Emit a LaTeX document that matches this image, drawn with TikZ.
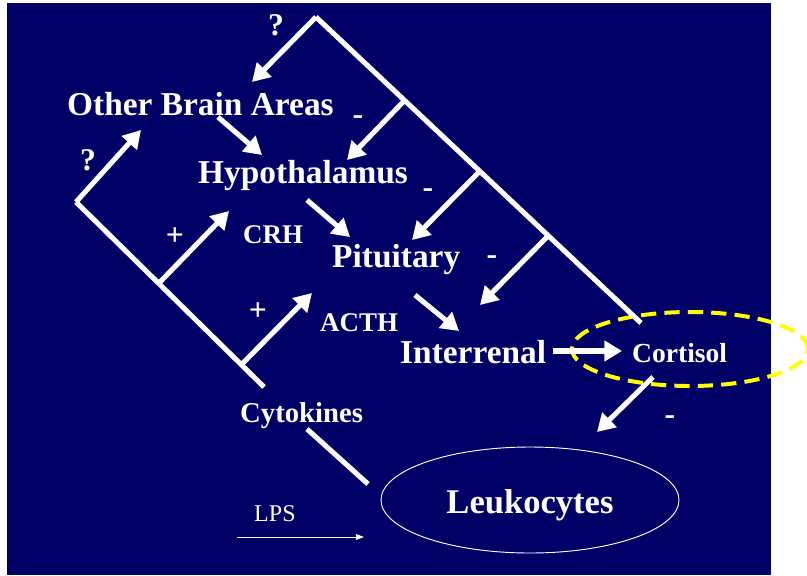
\documentclass[tikz,border=0pt]{standalone}
\usepackage{fontspec}
\setmainfont{Liberation Serif}
\usetikzlibrary{arrows.meta,shapes.geometric}
\definecolor{slidebg}{RGB}{0,0,102}
\definecolor{cortyellow}{RGB}{255,255,0}

\begin{document}
\begin{tikzpicture}[x=0.03cm,y=-0.03cm,
  bigtxt/.style={text=white,inner sep=0pt,anchor=base west,font=\bfseries\fontsize{28.5}{32}\selectfont},
  smalltxt/.style={text=white,inner sep=0pt,anchor=base west,font=\bfseries\fontsize{23}{26}\selectfont},
  signtxt/.style={text=white,inner sep=0pt,font=\bfseries\fontsize{27}{30}\selectfont},
  wline/.style={draw=white,line width=4.3pt},
  warr/.style={wline,-{Triangle[length=15pt,width=17pt]}},
  thinarr/.style={draw=white,line width=0.8pt,-{Triangle[length=7pt,width=5pt]}}
]
\useasboundingbox (0,0) rectangle (807,575);
\fill[slidebg] (7,3) rectangle (771,575);

% labels
\node[bigtxt] (oba) at (67,115) {Other Brain Areas};
\node[bigtxt] (hyp) at (198,183) {Hypothalamus};
\node[bigtxt] (pit) at (332,267) {Pituitary};
\node[bigtxt] (inter) at (400,363) {Interrenal};
\node[smalltxt,font=\bfseries\fontsize{23.5}{26}\selectfont] (cort) at (632,362) {Cortisol};
\node[smalltxt] (crh) at (243,243) {CRH};
\node[smalltxt] (acth) at (320,331) {ACTH};
\node[smalltxt,font=\bfseries\fontsize{24.5}{28}\selectfont] (cyto) at (240,422) {Cytokines};
\node[text=white,inner sep=0pt,anchor=base west,font=\fontsize{20.5}{24}\selectfont] (lps) at (254,521) {LPS};
\node[ellipse,draw=white,line width=0.8pt,minimum width=8.94cm,minimum height=3.18cm] (leuk) at (530,500) {};
\node[bigtxt,anchor=base,font=\bfseries\fontsize{29.5}{32}\selectfont] (leuktxt) at (530,513) {Leukocytes};
\node[ellipse,draw=cortyellow,line width=3.4pt,dash pattern=on 13pt off 7pt,
      minimum width=7.08cm,minimum height=2.22cm] (cortring) at (690,349) {};

% signs
\node[signtxt] (q1) at (276,25) {?};
\node[signtxt] (q2) at (88,160) {?};
\node[signtxt] (m1) at (358,120) {-};
\node[signtxt] (m2) at (428,193) {-};
\node[signtxt] (m3) at (492,260) {-};
\node[signtxt] (m4) at (670,420) {-};
\node[signtxt] (p1) at (175,237) {+};
\node[signtxt] (p2) at (258,312) {+};

% right feedback branch
\coordinate (top) at (316,17);
\coordinate (fb1) at (404,101);
\coordinate (fb2) at (479,172);
\coordinate (fb3) at (547,237);
\coordinate (fbend) at (641,323);
\coordinate (tipoba) at (252,82);
\coordinate (tiphyp) at (347,160);
\coordinate (tippit) at (412,240);
\coordinate (tipint) at (480,305);
\draw[wline] (top) -- (fbend);
\draw[warr] (top) -- (tipoba);
\draw[warr] (fb1) -- (tiphyp);
\draw[warr] (fb2) -- (tippit);
\draw[warr] (fb3) -- (tipint);

% left cytokine branch
\coordinate (cv) at (76,202);
\coordinate (cend) at (264,387);
\coordinate (cj1) at (160,282);
\coordinate (cj2) at (242,364);
\coordinate (tipoba2) at (141,130);
\coordinate (tipcrh) at (229,211);
\coordinate (tipacth) at (312,293);
\draw[wline] (cv) -- (cend);
\draw[warr] (cv) -- (tipoba2);
\draw[warr] (cj1) -- (tipcrh);
\draw[warr] (cj2) -- (tipacth);

% axis arrows
\coordinate (obaout) at (218,117);
\coordinate (hypin) at (262,155);
\coordinate (hypout) at (307,200);
\coordinate (pitin) at (350,237);
\coordinate (pitout) at (415,295);
\coordinate (intin) at (459,331);
\coordinate (intout) at (553,351);
\coordinate (cortin) at (622,351);
\coordinate (cortout) at (653,377);
\coordinate (leukin) at (597,432);
\draw[warr] (obaout) -- (hypin);
\draw[warr] (hypout) -- (pitin);
\draw[warr] (pitout) -- (intin);
\draw[warr] (intout) -- (cortin);
\draw[warr] (cortout) -- (leukin);

\coordinate (cytoout) at (307,429);
\coordinate (leukcyto) at (368,484);
\draw[wline] (cytoout) -- (leukcyto);
\coordinate (lpsstart) at (237,537);
\coordinate (lpsend) at (364,537);
\draw[thinarr] (lpsstart) -- (lpsend);
\end{tikzpicture}
\end{document}
